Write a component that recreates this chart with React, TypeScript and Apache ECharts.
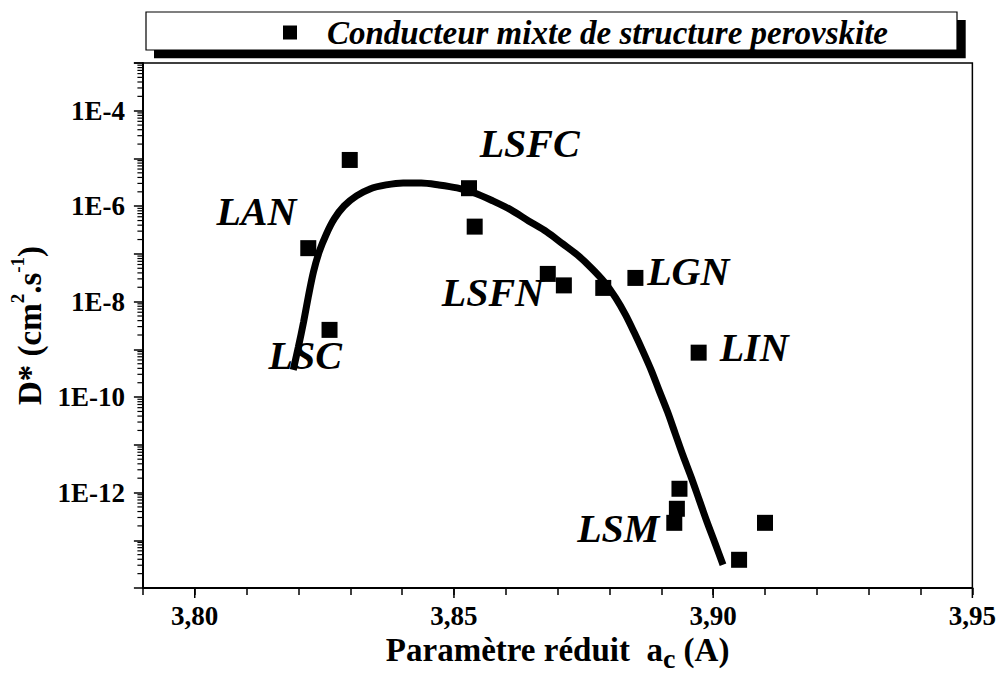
import React, { useEffect, useRef } from 'react';
import * as echarts from 'echarts';

const SERIES_NAME = 'Conducteur mixte de structure perovskite';
const FONT = 'Liberation Serif, Times New Roman, serif';

// measured points (a_c in Å, D* in cm2/s)
const pointX = [3.8299, 3.8219, 3.826, 3.8529, 3.854, 3.8681, 3.8712, 3.8788, 3.885, 3.8972, 3.8935, 3.893, 3.8925, 3.91, 3.905];
const pointY = [9.3e-6, 1.32e-7, 2.56e-9, 2.38e-6, 3.73e-7, 3.81e-8, 2.19e-8, 1.94e-8, 3.14e-8, 8.53e-10, 1.2e-12, 4.57e-13, 2.32e-13, 2.32e-13, 3.9e-14];

// fitted trend curve
const curveX = [3.819, 3.82, 3.821, 3.8219, 3.8229, 3.824, 3.8254, 3.8269, 3.8288, 3.8312, 3.8338, 3.8369, 3.8402, 3.8437, 3.8471, 3.8506, 3.854, 3.8575, 3.861, 3.8644, 3.8679, 3.871, 3.8738, 3.8765, 3.879, 3.8812, 3.8831, 3.8848, 3.8865, 3.8881, 3.8896, 3.8912, 3.8927, 3.8942, 3.8958, 3.8973, 3.8988, 3.9004, 3.9019];
const curveY = [3.72e-10, 1.13e-9, 3.77e-9, 1.26e-8, 4.2e-8, 1.1e-7, 2.62e-7, 5.41e-7, 1.01e-6, 1.64e-6, 2.3e-6, 2.79e-6, 3.07e-6, 3.07e-6, 2.79e-6, 2.41e-6, 1.89e-6, 1.29e-6, 8.35e-7, 4.91e-7, 2.89e-7, 1.62e-7, 9.53e-8, 5.09e-8, 2.59e-8, 1.2e-8, 5.28e-9, 2.22e-9, 8.86e-10, 3.55e-10, 1.35e-10, 4.91e-11, 1.7e-11, 5.88e-12, 2.04e-12, 7.05e-13, 2.44e-13, 8.45e-14, 3.07e-14];

// compound annotations
const labelNames = ['LAN', 'LSFC', 'LSFN', 'LGN', 'LIN', 'LSC', 'LSM'];
const labelX = [3.8119, 3.8646, 3.8575, 3.8952, 3.9079, 3.8213, 3.8817];
const labelY = [7.9e-7, 2.1e-5, 1.56e-8, 4.2e-8, 1.07e-9, 7.3e-10, 1.74e-13];

// axes
const X_MIN = 3.79;
const X_MAX = 3.95;
const X_MAJOR = [3.8, 3.85, 3.9, 3.95];
const Y_MIN = 1e-14;
const Y_MAX = 1e-3;
const Y_LABEL_EXP = [-4, -6, -8, -10, -12];
const Y_DECADES = [-14, -13, -12, -11, -10, -9, -8, -7, -6, -5, -4];
const MINOR_MULT = [2, 3, 4, 5, 6, 7, 8, 9];

export default function App() {
  const ref = useRef<HTMLDivElement>(null);

  useEffect(() => {
    if (!ref.current) return;
    const chart = echarts.init(ref.current, undefined, { renderer: 'svg' });

    const yMinorData: number[][] = [];
    Y_DECADES.forEach((e) => {
      MINOR_MULT.forEach((m) => {
        yMinorData.push([X_MIN, m * Math.pow(10, e)]);
      });
    });
    const xMajorData = X_MAJOR.map((x) => [x, Y_MIN]);

    const option: any = {
      animation: false,
      backgroundColor: '#fff',
      grid: {
        left: 141,
        right: 26,
        top: 63,
        bottom: 90,
        show: true,
        borderColor: '#000',
        borderWidth: 1.5,
        backgroundColor: 'transparent',
      },
      legend: {
        data: [SERIES_NAME],
        left: 283,
        top: 16,
        padding: 0,
        itemWidth: 14,
        itemHeight: 14,
        icon: 'rect',
        selectedMode: false,
        z: 10,
        textStyle: {
          fontFamily: FONT,
          fontSize: 33,
          fontWeight: 'bold',
          fontStyle: 'italic',
          color: '#000',
          lineHeight: 30,
          padding: [0, 0, 0, 25],
        },
      },
      graphic: [
        { type: 'rect', z: 1, shape: { x: 154, y: 20, width: 811.7, height: 38.3 }, style: { fill: '#000' } },
        { type: 'rect', z: 2, shape: { x: 146, y: 12, width: 811, height: 38 }, style: { fill: '#fff', stroke: '#000', lineWidth: 1.2 } },
      ],
      xAxis: {
        type: 'value',
        min: X_MIN,
        max: X_MAX,
        interval: 0.01,
        axisLine: { show: true, onZero: false, lineStyle: { color: '#000', width: 2 } },
        axisTick: { show: true, length: 7, lineStyle: { color: '#000', width: 1.5 } },
        splitLine: { show: false },
        axisLabel: {
          margin: 14,
          fontFamily: FONT,
          fontSize: 27,
          fontWeight: 'bold',
          color: '#000',
          formatter: (v: number) =>
            Math.abs(v * 20 - Math.round(v * 20)) < 1e-6 ? v.toFixed(2).replace('.', ',') : '',
        },
        name: '{a|Paramètre réduit  a}{c|c}{a| (A)}',
        nameLocation: 'middle',
        nameGap: 36,
        nameTextStyle: {
          rich: {
            a: { fontFamily: FONT, fontSize: 33, fontWeight: 'bold', color: '#000', lineHeight: 44 },
            c: { fontFamily: FONT, fontSize: 28, fontWeight: 'bold', color: '#000', lineHeight: 28, verticalAlign: 'bottom' },
          },
        },
      },
      yAxis: {
        type: 'log',
        logBase: 10,
        min: Y_MIN,
        max: Y_MAX,
        interval: 1,
        splitNumber: 11,
        axisLine: { show: true, onZero: false, lineStyle: { color: '#000', width: 2 } },
        axisTick: { show: true, length: 9, lineStyle: { color: '#000', width: 1.5 } },
        splitLine: { show: false },
        minorTick: { show: false },
        axisLabel: {
          margin: 18,
          fontFamily: FONT,
          fontSize: 27,
          fontWeight: 'bold',
          color: '#000',
          formatter: (v: number) => {
            const e = Math.round(Math.log10(v));
            return Y_LABEL_EXP.indexOf(e) >= 0 ? `1E${e}` : '';
          },
        },
        name: '{a|D* (cm}{s|2}{a|.s}{s|-1}{a|)}',
        nameLocation: 'middle',
        nameRotate: 90,
        nameGap: 86,
        nameTextStyle: {
          rich: {
            a: { fontFamily: FONT, fontSize: 33, fontWeight: 'bold', color: '#000', lineHeight: 44 },
            s: { fontFamily: FONT, fontSize: 19, fontWeight: 'bold', color: '#000', lineHeight: 20, verticalAlign: 'top' },
          },
        },
      },
      series: [
        {
          name: 'fit',
          type: 'line',
          data: curveX.map((x, i) => [x, curveY[i]]),
          smooth: 0.3,
          showSymbol: false,
          symbol: 'none',
          lineStyle: { color: '#000', width: 7, opacity: 1 },
          z: 2,
          silent: true,
        },
        {
          name: SERIES_NAME,
          type: 'scatter',
          symbol: 'rect',
          symbolSize: 16,
          itemStyle: { color: '#000', opacity: 1 },
          data: pointX.map((x, i) => [x, pointY[i]]),
          z: 3,
        },
        {
          name: 'labels',
          type: 'scatter',
          symbolSize: 0,
          itemStyle: { color: '#000', opacity: 1 },
          silent: true,
          z: 4,
          label: {
            show: true,
            position: 'inside',
            formatter: '{b}',
            fontFamily: FONT,
            fontSize: 40,
            fontWeight: 'bold',
            fontStyle: 'italic',
            color: '#000',
            opacity: 1,
          },
          data: labelNames.map((n, i) => ({ name: n, value: [labelX[i], labelY[i]] })),
        },
        {
          name: 'yMinorTicks',
          type: 'custom',
          silent: true,
          clip: false,
          z: 5,
          encode: { x: 0, y: 1 },
          data: yMinorData,
          renderItem: (_p: any, api: any) => {
            const pt = api.coord([api.value(0), api.value(1)]);
            return {
              type: 'line',
              shape: { x1: pt[0] - 5.5, y1: pt[1], x2: pt[0], y2: pt[1] },
              style: { stroke: '#000', lineWidth: 1.2 },
            };
          },
        },
        {
          name: 'xMajorTicks',
          type: 'custom',
          silent: true,
          clip: false,
          z: 5,
          encode: { x: 0, y: 1 },
          data: xMajorData,
          renderItem: (_p: any, api: any) => {
            const pt = api.coord([api.value(0), api.value(1)]);
            return {
              type: 'line',
              shape: { x1: pt[0], y1: pt[1], x2: pt[0], y2: pt[1] + 10 },
              style: { stroke: '#000', lineWidth: 1.5 },
            };
          },
        },
      ],
    };

    chart.setOption(option);
    return () => chart.dispose();
  }, []);

  return (
    <div
      ref={ref}
      style={{ position: 'fixed', left: 0, top: 0, width: 999, height: 678, background: '#fff' }}
    />
  );
}
